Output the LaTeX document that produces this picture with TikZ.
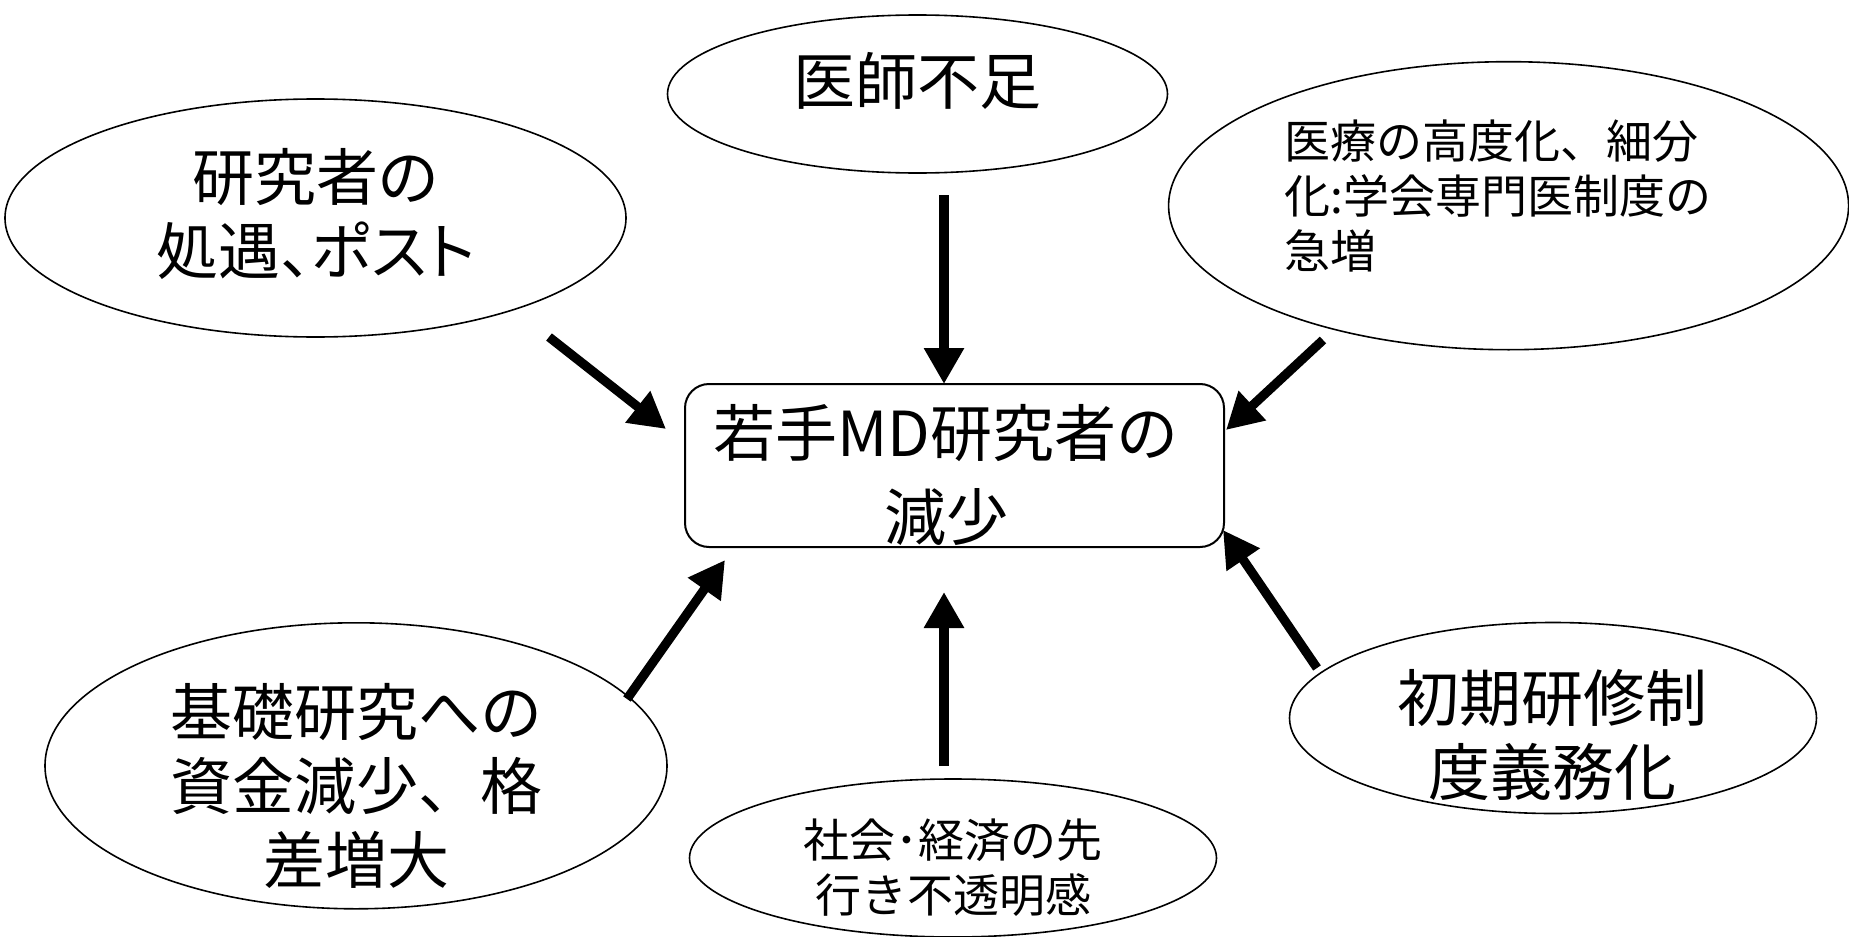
\documentclass[tikz,border=0pt]{standalone}
\usepackage{fontspec}
\setmainfont{Noto Sans CJK JP}
\newfontfamily\propfont[RawFeature=+palt]{Noto Sans CJK JP}
\usetikzlibrary{shapes.geometric,arrows.meta}
\tikzset{
  oval/.style={draw=black,line width=0.8pt,ellipse,inner sep=0pt},
  bigtxt/.style={align=center,font=\fontsize{31}{37}\selectfont,inner sep=0pt},
  smalltxt/.style={font=\fontsize{23}{27.5}\selectfont,inner sep=0pt},
  mainbox/.style={draw=black,line width=1pt,rounded corners=12pt,inner sep=0pt},
  fatarrow/.style={line width=4.6pt,-{Triangle[length=18pt,width=19pt]}}
}
\begin{document}
\begin{tikzpicture}[x=0.5pt,y=-0.5pt]
\useasboundingbox (0,0) rectangle (1849,937);
% ellipses
\node[oval,minimum width=500pt*0.5,minimum height=158pt*0.5] (e1) at (917.5,94) {};
\node[oval,minimum width=621pt*0.5,minimum height=238pt*0.5] (e2) at (315.5,218) {};
\node[oval,minimum width=680pt*0.5,minimum height=288pt*0.5] (e3) at (1508.6,205.7) {};
\node[oval,minimum width=622pt*0.5,minimum height=286pt*0.5] (e4) at (356,765.8) {};
\node[oval,minimum width=527pt*0.5,minimum height=158pt*0.5] (e5) at (953,858) {};
\node[oval,minimum width=527pt*0.5,minimum height=191pt*0.5] (e6) at (1553,718) {};
% central box
\node[mainbox,minimum width=539pt*0.5,minimum height=163pt*0.5] (box) at (954.5,465.5) {};
% texts
\node[bigtxt] (t1) at (917,81) {医師不足};
\node[bigtxt] (t2) at (316,214) {研究者の\\{\propfont 処遇、ポスト}};
\node[smalltxt,align=left,anchor=west] (t3) at (1284,196) {医療の高度化、細分\\化:学会専門医制度の\\急増};
\node[bigtxt,font=\fontsize{31}{42}\selectfont] (t0) at (946,475) {若手MD研究者の\\減少};
\node[bigtxt] (t4) at (356,786) {基礎研究への\\資金減少、格\\差増大};
\node[smalltxt,align=center] (t5) at (953,868) {社会･経済の先\\行き不透明感};
\node[bigtxt] (t6) at (1552,735) {初期研修制\\度義務化};
% arrow end points
\coordinate (a1s) at (549,337);
\coordinate (a1e) at (666,429);
\coordinate (a2s) at (944,195);
\coordinate (a2e) at (944,384);
\coordinate (a3s) at (1323,340);
\coordinate (a3e) at (1226,430);
\coordinate (a4s) at (627,699);
\coordinate (a4e) at (725,560);
\coordinate (a5s) at (944,766);
\coordinate (a5e) at (944,592);
\coordinate (a6s) at (1317,668);
\coordinate (a6e) at (1223,530);
\draw[fatarrow] (a1s) -- (a1e);
\draw[fatarrow] (a2s) -- (a2e);
\draw[fatarrow] (a3s) -- (a3e);
\draw[fatarrow] (a4s) -- (a4e);
\draw[fatarrow] (a5s) -- (a5e);
\draw[fatarrow] (a6s) -- (a6e);
\end{tikzpicture}
\end{document}
